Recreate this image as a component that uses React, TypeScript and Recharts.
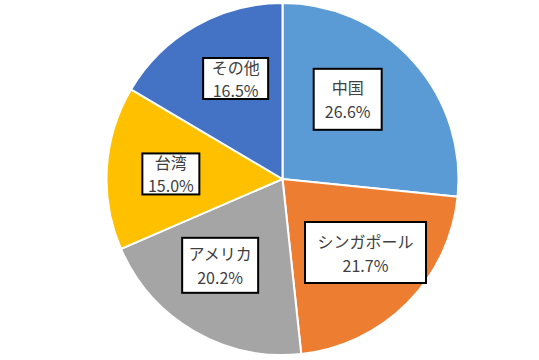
import React from "react";
import { Cell, Pie, PieChart } from "recharts";

const REGIONS = ["中国", "シンガポール", "アメリカ", "台湾", "その他"];
const SHARES = [26.6, 21.7, 20.2, 15.0, 16.5];
const COLORS = ["#5B9BD5", "#ED7D31", "#A5A5A5", "#FFC000", "#4472C4"];

// label boxes were dragged/resized by hand in the original, so nudge them a bit
const BOX_W = [68, 121, 76, 57, 65];
const BOX_H = [61, 61, 55, 41, 41];
const LABEL_TURN = [8.6, 3.3, -5.6, 1, -4.7]; // degrees, + = counter-clockwise
const LABEL_R = [0.585, 0.63, 0.605, 0.635, 0.63];

const data = REGIONS.map((name, i) => ({ name, value: SHARES[i] }));

const RAD = Math.PI / 180;
const FONT = "'Noto Sans CJK JP', 'Noto Sans', sans-serif";

function renderLabel(props: any) {
  const { cx, cy, midAngle, outerRadius, index, value, name } = props;
  const r = outerRadius * LABEL_R[index];
  const a = (midAngle + LABEL_TURN[index]) * RAD;
  const x = cx + r * Math.cos(-a);
  const y = cy + r * Math.sin(-a);
  const w = BOX_W[index];
  const h = BOX_H[index];
  const gap = h > 50 ? 12 : 11.5;
  return (
    <g>
      <rect
        x={x - w / 2}
        y={y - h / 2}
        width={w}
        height={h}
        fill="#ffffff"
        stroke="#000000"
        strokeWidth={2}
      />
      <text
        x={x}
        y={y - gap}
        textAnchor="middle"
        dominantBaseline="central"
        fill="#404040"
        fontSize={16}
        fontFamily={FONT}
      >
        {name}
      </text>
      <text
        x={x}
        y={y + gap}
        textAnchor="middle"
        dominantBaseline="central"
        fill="#404040"
        fontSize={16}
        fontFamily={FONT}
      >
        {`${Number(value).toFixed(1)}%`}
      </text>
    </g>
  );
}

export default function App() {
  return (
    <div style={{ position: "absolute", left: 0, top: 0, background: "#fff" }}>
      <PieChart
        width={539}
        height={360}
        margin={{ top: 0, right: 0, bottom: 0, left: 0 }}
      >
        <Pie
          data={data}
          dataKey="value"
          nameKey="name"
          cx={282.5}
          cy={179}
          outerRadius={176}
          startAngle={90}
          endAngle={-270}
          stroke="#ffffff"
          strokeWidth={2}
          label={renderLabel}
          labelLine={false}
          isAnimationActive={false}
        >
          {data.map((d, i) => (
            <Cell key={d.name} fill={COLORS[i]} />
          ))}
        </Pie>
      </PieChart>
    </div>
  );
}
